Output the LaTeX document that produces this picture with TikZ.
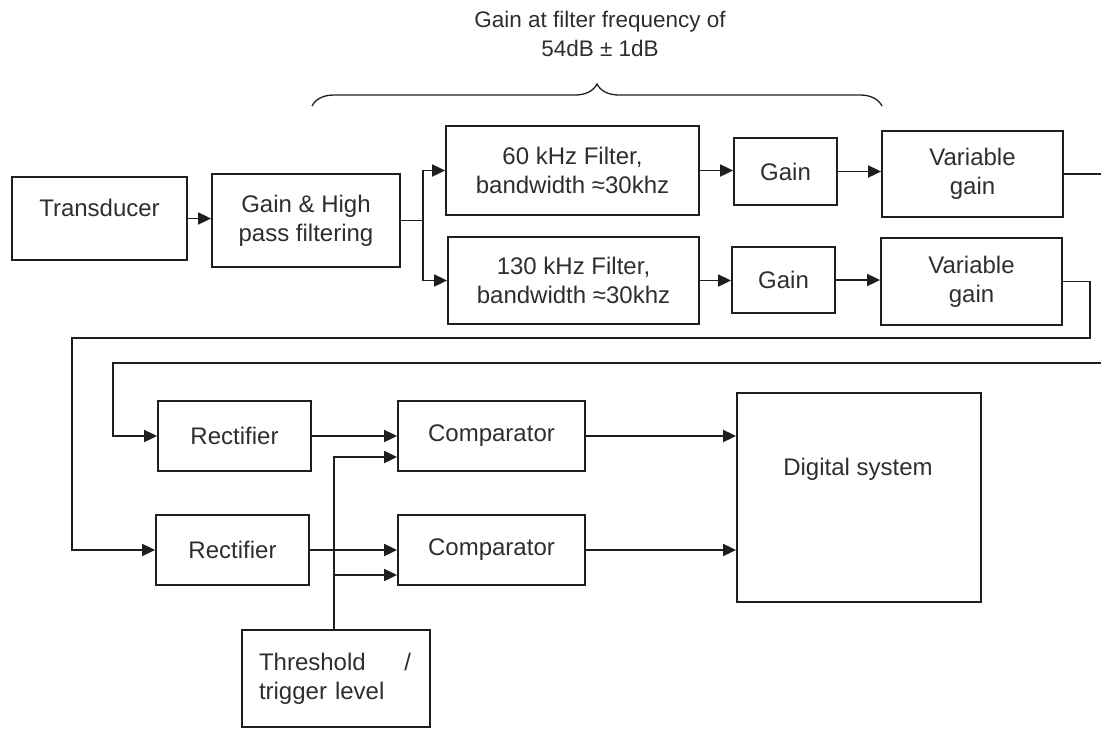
\documentclass[tikz,border=0pt]{standalone}
\usepackage{fontspec}
\setmainfont{Liberation Sans}
\usetikzlibrary{arrows.meta,decorations.pathreplacing}
\definecolor{ink}{HTML}{1E1E1E}
\definecolor{txt}{HTML}{2E2E2E}
\tikzset{
  box/.style={draw=ink, line width=1.8pt, rectangle, inner sep=0pt, align=center, text=txt, font=\fontsize{24}{29}\selectfont},
  lbl/.style={inner sep=0pt, align=center, text=txt, font=\fontsize{24}{29}\selectfont},
  conn/.style={draw=ink, line width=1.8pt},
  arr/.style={conn, -{Triangle[length=13pt,width=12pt]}},
}
\begin{document}
\begin{tikzpicture}[x=1pt,y=-1pt]
\useasboundingbox (0,0) rectangle (1101,729);
% boxes
\node[box, minimum width=175pt, minimum height=83pt] (trans) at (99.5,218.5) {};
\node[lbl] (trans-t) at (99.5,208) {Transducer};
\node[box, minimum width=188pt, minimum height=93pt] (ghp) at (306,220.5) {Gain \& High\\pass filtering};
\node[box, minimum width=253pt, minimum height=89pt] (f1) at (572.5,170.5) {60 kHz Filter,\\bandwidth ≈30khz};
\node[box, minimum width=251pt, minimum height=87pt] (f2) at (573.5,280.5) {130 kHz Filter,\\bandwidth ≈30khz};
\node[box, minimum width=103pt, minimum height=67pt] (g1) at (785.5,171.5) {Gain};
\node[box, minimum width=103pt, minimum height=66pt] (g2) at (783.5,280) {Gain};
\node[box, minimum width=181pt, minimum height=86pt] (v1) at (972.5,174) {Variable\\gain};
\node[box, minimum width=181pt, minimum height=87pt] (v2) at (971.5,281.5) {Variable\\gain};
\node[box, minimum width=153pt, minimum height=70pt] (r1) at (234.5,436) {Rectifier};
\node[box, minimum width=153pt, minimum height=70pt] (r2) at (232.5,550) {Rectifier};
\node[box, minimum width=187pt, minimum height=70pt] (c1) at (491.5,436) {Comparator};
\node[box, minimum width=187pt, minimum height=70pt] (c2) at (491.5,550) {Comparator};
\node[box, minimum width=244pt, minimum height=209pt] (dig) at (859,497.5) {};
\node[lbl] (dig-t) at (858,469) {Digital system};
\node[box, minimum width=188pt, minimum height=97pt, text width=154pt, align=left] (thr) at (336,678.5) {\makebox[152pt][l]{Threshold\hfill/}\\trigger level};
% brace and its label
\draw[draw=ink, line width=1.3pt, decorate, decoration={brace, amplitude=22pt}] (312,106) -- (882,106);
\node[lbl, font=\fontsize{22.5}{28.5}\selectfont] (gainlbl) at (600,34) {Gain at filter frequency of\\54dB ± 1dB};
% connectors
\coordinate (split) at (423,220.5);
\coordinate (out1) at (1101,174);
\coordinate (in1) at (1101,363);
\coordinate (thrup) at ([xshift=-2pt]thr.north);
\draw[arr] (trans.east) -- (trans.east -| ghp.west);
\draw[conn] (ghp.east) -- (split);
\draw[arr] (split) |- (f1.west);
\draw[arr] (split) |- (f2.west);
\draw[arr] (f1.east) -- (f1.east -| g1.west);
\draw[arr] (f2.east) -- (f2.east -| g2.west);
\draw[arr] (g1.east) -- (g1.east -| v1.west);
\draw[arr] (g2.east) -- (g2.east -| v2.west);
\draw[conn] (v1.east) -- (out1);
\draw[arr] (v2.east) -- (1090,281.5) -- (1090,338) -- (72,338) |- (r2.west);
\draw[arr] (in1) -- (113,363) |- (r1.west);
\draw[arr] (r1.east) -- (c1.west);
\draw[arr] (r2.east) -- (c2.west);
\draw[arr] (thrup) -- (thrup |- 0,457) -- (c1.west |- 0,457);
\draw[arr] (thrup |- 0,575) -- (c2.west |- 0,575);
\draw[arr] (c1.east) -- (c1.east -| dig.west);
\draw[arr] (c2.east) -- (c2.east -| dig.west);
\end{tikzpicture}
\end{document}
